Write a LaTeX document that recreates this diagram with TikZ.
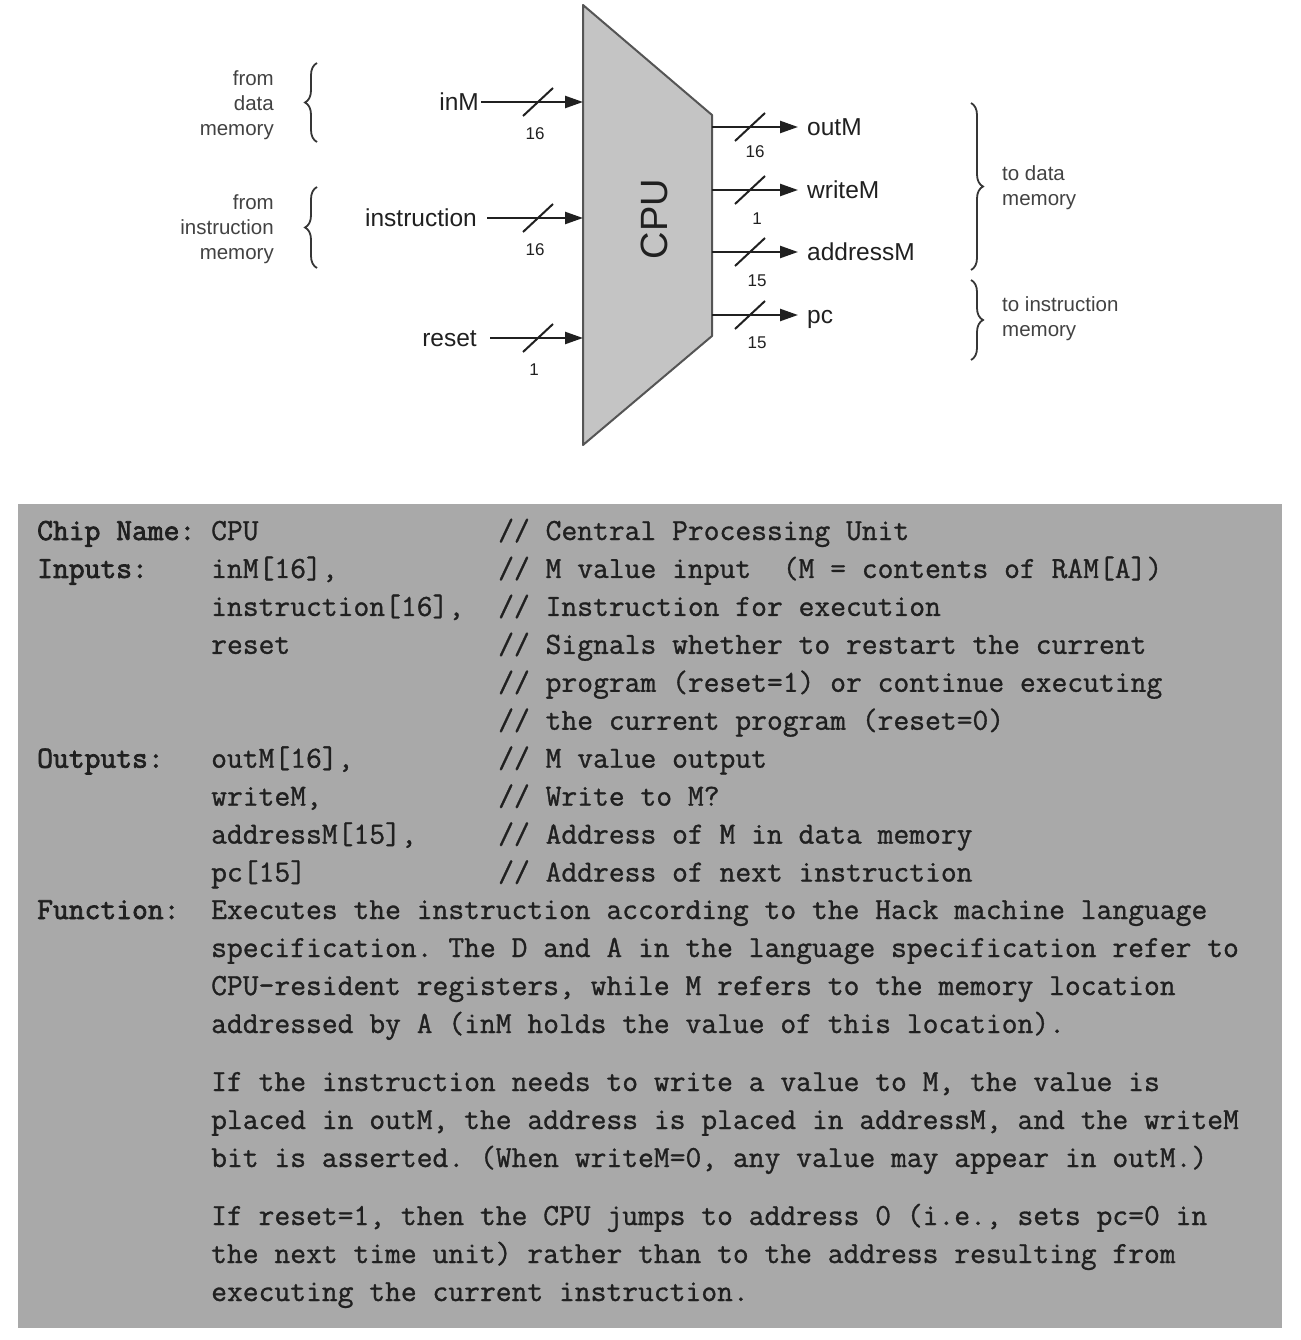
\documentclass[tikz,border=0pt]{standalone}
\usepackage{fontspec}
\setmainfont{Liberation Sans}
\newfontfamily\codefont{Latin Modern Mono}[FakeBold=1]
\newfontfamily\codeboldfont{Latin Modern Mono}[FakeBold=2.4]
\usepackage{tikz}
\usetikzlibrary{arrows.meta, calc, positioning, decorations.pathreplacing}
\definecolor{cpufill}{RGB}{196,196,196}
\definecolor{cpuline}{RGB}{85,85,85}
\definecolor{panelgray}{RGB}{169,169,169}
\definecolor{ink}{RGB}{32,32,32}
\newcommand*{\buswidth}[4]{%
  \draw[tick] (#1) ++(-15,14) -- ++(30,-28);
  \node[width label] (#2) at ($(#1)+(#3)$) {#4};
}

\begin{document}
\begin{tikzpicture}[x=1pt, y=-1pt,
    wire/.style       = {draw=ink, line width=2.4pt,
                         -{Triangle[length=18pt,width=12pt]}},
    tick/.style       = {draw=ink, line width=2pt},
    cpu/.style        = {draw=cpuline, fill=cpufill, line width=2pt,
                         line join=round},
    chip name/.style  = {font=\fontsize{38}{40}\selectfont, text=ink,
                         rotate=90, inner sep=0pt},
    signal/.style     = {font=\fontsize{24.5}{28}\selectfont, text=ink,
                         inner xsep=2pt, inner ysep=0pt,
                         text height=17.5pt, text depth=0pt},
    signal out/.style = {signal, inner xsep=9pt},
    width label/.style= {font=\fontsize{17}{18}\selectfont, text=ink,
                         inner sep=0pt},
    memory note/.style= {font=\fontsize{20.5}{25}\selectfont,
                         text=ink!85, inner sep=0pt},
    curly/.style      = {draw=ink!90, line width=1.8pt,
                         decorate, decoration={brace, amplitude=12pt}},
    code/.style       = {font=\codefont\fontsize{30.7}{38}\selectfont\frenchspacing,
                         text=ink, inner sep=0pt, anchor=base west},
    code label/.style = {code, font=\codeboldfont\fontsize{30.7}{38}\selectfont\frenchspacing},
  ]
  \useasboundingbox (0,0) rectangle (1300,1340);

  % the chip
  \draw[cpu] (583,5) coordinate (cpuNW) -- (712,115) coordinate (cpuNE)
    -- (712,336) coordinate (cpuSE) -- (583,445) coordinate (cpuSW) -- cycle;
  \node[chip name] (cpu) at (654,219) {CPU};

  \coordinate (pinInM)    at (583,102);
  \coordinate (pinInstr)  at (583,218);
  \coordinate (pinReset)  at (583,338);
  \coordinate (pinOutM)   at (712,127);
  \coordinate (pinWriteM) at (712,190);
  \coordinate (pinAddrM)  at (712,252);
  \coordinate (pinPC)     at (712,315);

  % inputs
  \node[signal, left=102pt of pinInM]   (inM)   {inM};
  \node[signal, left=104pt of pinInstr] (instr) {instruction};
  \node[signal, left=104pt of pinReset] (reset) {reset};
  \draw[wire] (inM) -- (pinInM);
  \draw[wire] ([xshift=8pt]instr.east) -- (pinInstr);
  \draw[wire] ([xshift=11pt]reset.east) -- (pinReset);
  \path (pinInM)   ++(-45,0) coordinate (sInM);
  \path (pinInstr) ++(-45,0) coordinate (sInstr);
  \path (pinReset) ++(-45,0) coordinate (sReset);
  \buswidth{sInM}{wInM}{-3,32}{16}
  \buswidth{sInstr}{wInstr}{-3,32}{16}
  \buswidth{sReset}{wReset}{-4,32}{1}

  % outputs
  \node[signal out, right=86pt of pinOutM]   (outM)   {outM};
  \node[signal out, right=86pt of pinWriteM] (writeM) {writeM};
  \node[signal out, right=86pt of pinAddrM]  (addrM)  {addressM};
  \node[signal out, right=86pt of pinPC]     (pc)     {pc};
  \draw[wire] (pinOutM) -- (outM);
  \draw[wire] (pinWriteM) -- (writeM);
  \draw[wire] (pinAddrM) -- (addrM);
  \draw[wire] (pinPC) -- (pc);
  \path (pinOutM)   ++(38,0) coordinate (sOutM);
  \path (pinWriteM) ++(38,0) coordinate (sWriteM);
  \path (pinAddrM)  ++(38,0) coordinate (sAddrM);
  \path (pinPC)     ++(38,0) coordinate (sPC);
  \buswidth{sOutM}{wOutM}{5,25}{16}
  \buswidth{sWriteM}{wWriteM}{7,29}{1}
  \buswidth{sAddrM}{wAddrM}{7,29}{15}
  \buswidth{sPC}{wPC}{7,28}{15}

  % where the signals come from / go to
  \node[memory note, align=right, anchor=east] (fromData)  at (274,105) {from\\data\\memory};
  \node[memory note, align=right, anchor=east] (fromInstr) at (274,229) {from\\instruction\\memory};
  \node[memory note, align=left, anchor=west]  (toData)    at (1002,188) {to data\\memory};
  \node[memory note, align=left, anchor=west]  (toInstr)   at (1002,319) {to instruction\\memory};
  \draw[curly] (317,142) -- (317,63);
  \draw[curly] (317,268) -- (317,187);
  \draw[curly] (971,103) -- (971,270);
  \draw[curly] (971,280) -- (971,360);

  % interface listing
  \fill[panelgray] (18,504) rectangle (1282,1328);
  \foreach \lab/\val/\com [count=\i] in {
      {Chip Name:}/CPU/{Central Processing Unit},
      Inputs:/{inM[16],}/{M value input~~(M = contents of RAM[A])},
      {}/{instruction[16],}/{Instruction for execution},
      {}/reset/{Signals whether to restart the current},
      {}/{}/{program (reset=1) or continue executing},
      {}/{}/{the current program (reset=0)},
      Outputs:/{outM[16],}/{M value output},
      {}/{writeM,}/{Write to M?},
      {}/{addressM[15],}/{Address of M in data memory},
      {}/{pc[15]}/{Address of next instruction}}{
    \node[code label] (lab\i) at (37,{540+37.95*(\i-1)}) {\lab};
    \node[code]       (val\i) at (211,{540+37.95*(\i-1)}) {\val};
    \node[code]       (com\i) at (498,{540+37.95*(\i-1)}) {// \com};
  }
  \node[code label] (labFn) at (37,919) {Function:};
  \foreach \y/\txt [count=\i] in {
      919/{Executes the instruction according to the Hack machine language},
      957/{specification. The D and A in the language specification refer to},
      995/{CPU-resident registers, while M refers to the memory location},
      1033/{addressed by A (inM holds the value of this location).},
      1091/{If the instruction needs to write a value to M, the value is},
      1129/{placed in outM, the address is placed in addressM, and the writeM},
      1167/{bit is asserted. (When writeM=0, any value may appear in outM.)},
      1225/{If reset=1, then the CPU jumps to address 0 (i.e., sets pc=0 in},
      1263/{the next time unit) rather than to the address resulting from},
      1301/{executing the current instruction.}}{
    \node[code] (fn\i) at (211,\y) {\txt};
  }
\end{tikzpicture}
\end{document}
